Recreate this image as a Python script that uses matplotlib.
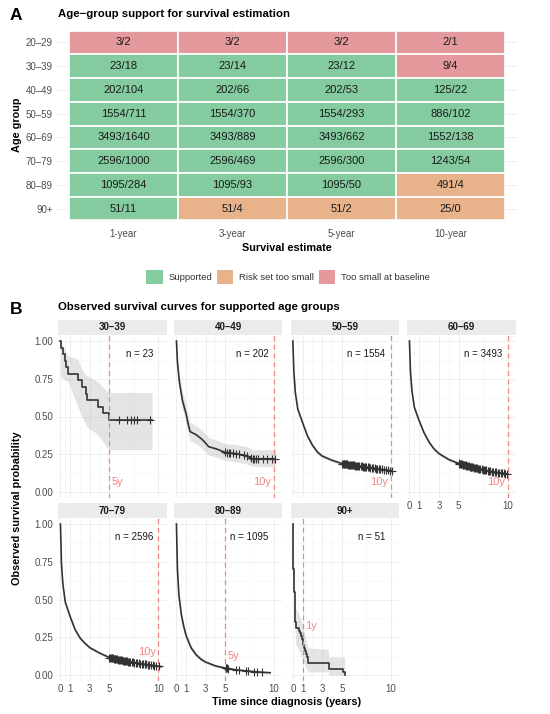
import numpy as np
import matplotlib.pyplot as plt
from matplotlib.patches import Patch, Rectangle

plt.rcParams['font.family'] = ['Liberation Sans', 'DejaVu Sans']

# ---- panel A data ----
age_groups = ['20–29', '30–39', '40–49', '50–59', '60–69', '70–79', '80–89', '90+']
horizons = ['1-year', '3-year', '5-year', '10-year']
n_baseline = [[3, 3, 3, 2],
              [23, 23, 23, 9],
              [202, 202, 202, 125],
              [1554, 1554, 1554, 886],
              [3493, 3493, 3493, 1552],
              [2596, 2596, 2596, 1243],
              [1095, 1095, 1095, 491],
              [51, 51, 51, 25]]
n_at_risk = [[2, 2, 2, 1],
             [18, 14, 12, 4],
             [104, 66, 53, 22],
             [711, 370, 293, 102],
             [1640, 889, 662, 138],
             [1000, 469, 300, 54],
             [284, 93, 50, 4],
             [11, 4, 2, 0]]
status = [['base', 'base', 'base', 'base'],
          ['ok', 'ok', 'ok', 'base'],
          ['ok', 'ok', 'ok', 'ok'],
          ['ok', 'ok', 'ok', 'ok'],
          ['ok', 'ok', 'ok', 'ok'],
          ['ok', 'ok', 'ok', 'ok'],
          ['ok', 'ok', 'ok', 'risk'],
          ['ok', 'risk', 'risk', 'risk']]
status_labels = ['Supported', 'Risk set too small', 'Too small at baseline']
status_keys = ['ok', 'risk', 'base']

# ---- panel B data ----
t_30 = [0, 0.03, 0.25, 0.42, 0.60, 0.78, 1.75, 2.20, 2.60, 2.70, 3.85, 4.35, 4.95, 9.35]
s_30 = [1.0, 0.957, 0.913, 0.870, 0.826, 0.783, 0.739, 0.696, 0.652, 0.609, 0.565, 0.522, 0.478, 0.478]
ci_t_30 = [0, 0.03, 0.78, 1.75, 2.20, 2.70, 3.85, 4.35, 4.95, 9.35]
lo_30 = [1.0, 0.76, 0.73, 0.57, 0.50, 0.43, 0.38, 0.33, 0.28, 0.28]
hi_30 = [1.0, 1.0, 0.90, 0.88, 0.81, 0.77, 0.73, 0.69, 0.66, 0.66]
cens_30 = [5.95, 6.8, 7.2, 7.5, 7.85, 9.1]

t_40 = [0, 0.1, 0.3, 0.6, 1.0, 1.2, 1.4, 2.0, 2.6, 2.9, 3.3, 4.1, 5.0, 6.0, 7.2, 7.8, 10.1]
s_40 = [1.0, 0.86, 0.73, 0.61, 0.515, 0.45, 0.40, 0.38, 0.35, 0.33, 0.30, 0.285, 0.262, 0.255, 0.24, 0.22, 0.22]
lo_40 = [1.0, 0.82, 0.68, 0.55, 0.46, 0.39, 0.34, 0.32, 0.29, 0.27, 0.245, 0.23, 0.21, 0.20, 0.185, 0.17, 0.165]
hi_40 = [1.0, 0.90, 0.78, 0.67, 0.57, 0.51, 0.46, 0.44, 0.41, 0.39, 0.36, 0.345, 0.32, 0.315, 0.30, 0.28, 0.28]
cens_40 = [5.0, 5.2, 5.35, 5.5, 5.8, 6.1, 6.4, 6.9, 7.2, 7.6, 7.8, 8.0, 8.2, 8.4, 8.9, 9.3, 9.8, 10.1]

t_50 = [0, 0.1, 0.25, 0.5, 1.0, 1.5, 2.0, 2.5, 3.0, 4.0, 5.0, 6.0, 7.0, 8.0, 9.0, 10.0, 10.2]
s_50 = [1.0, 0.80, 0.66, 0.55, 0.4575, 0.37, 0.31, 0.265, 0.238, 0.21, 0.1885, 0.178, 0.17, 0.16, 0.15, 0.14, 0.135]
lo_50 = [1.0, 0.78, 0.64, 0.53, 0.44, 0.355, 0.295, 0.25, 0.225, 0.198, 0.176, 0.166, 0.157, 0.147, 0.136, 0.125, 0.118]
hi_50 = [1.0, 0.82, 0.68, 0.57, 0.475, 0.385, 0.325, 0.28, 0.251, 0.222, 0.201, 0.19, 0.183, 0.173, 0.164, 0.155, 0.152]
cens_50 = [5.02, 5.1, 5.18, 5.25, 5.33, 5.4, 5.5, 5.58, 5.66, 5.75, 5.85, 5.93, 6.02, 6.12, 6.2,
           6.3, 6.4, 6.5, 6.6, 6.7, 6.8, 6.92, 7.05, 7.15, 7.28, 7.4, 7.52, 7.65, 7.78, 7.9,
           8.05, 8.2, 8.35, 8.5, 8.65, 8.8, 8.95, 9.1, 9.3, 9.5, 9.7, 9.9, 10.1]

t_60 = [0, 0.1, 0.25, 0.5, 1.0, 1.5, 2.0, 2.5, 3.0, 4.0, 5.0, 6.0, 7.0, 8.0, 9.0, 10.0]
s_60 = [1.0, 0.80, 0.67, 0.56, 0.4695, 0.39, 0.33, 0.285, 0.2545, 0.215, 0.1895, 0.17, 0.155, 0.14, 0.128, 0.12]
lo_60 = [1.0, 0.79, 0.655, 0.545, 0.455, 0.378, 0.318, 0.274, 0.244, 0.205, 0.18, 0.161, 0.146, 0.131, 0.119, 0.11]
hi_60 = [1.0, 0.81, 0.685, 0.575, 0.484, 0.402, 0.342, 0.296, 0.265, 0.225, 0.199, 0.179, 0.164, 0.149, 0.137, 0.13]
cens_60 = [5.0, 5.07, 5.14, 5.2, 5.27, 5.34, 5.42, 5.5, 5.57, 5.65, 5.72, 5.8, 5.88, 5.96, 6.05,
           6.13, 6.22, 6.3, 6.4, 6.5, 6.6, 6.7, 6.8, 6.9, 7.0, 7.1, 7.22, 7.34, 7.46, 7.58,
           7.7, 7.82, 7.95, 8.1, 8.25, 8.4, 8.55, 8.7, 8.85, 9.0, 9.15, 9.3, 9.45, 9.6, 9.75, 9.9]

t_70 = [0, 0.1, 0.25, 0.5, 1.0, 1.5, 2.0, 2.5, 3.0, 4.0, 5.0, 6.0, 7.0, 8.0, 9.0, 10.0, 10.3]
s_70 = [1.0, 0.74, 0.60, 0.48, 0.385, 0.30, 0.245, 0.21, 0.181, 0.145, 0.1156, 0.10, 0.088, 0.077, 0.067, 0.058, 0.055]
lo_70 = [1.0, 0.725, 0.585, 0.465, 0.37, 0.287, 0.233, 0.199, 0.171, 0.136, 0.107, 0.092, 0.08, 0.069, 0.059, 0.05, 0.046]
hi_70 = [1.0, 0.755, 0.615, 0.495, 0.40, 0.313, 0.257, 0.221, 0.191, 0.154, 0.124, 0.108, 0.096, 0.085, 0.075, 0.066, 0.064]
cens_70 = [5.0, 5.08, 5.15, 5.22, 5.3, 5.38, 5.45, 5.53, 5.6, 5.7, 5.78, 5.86, 5.95, 6.05, 6.15,
           6.25, 6.35, 6.45, 6.55, 6.66, 6.78, 6.9, 7.02, 7.15, 7.28, 7.4, 7.55, 7.7, 7.85, 8.0,
           8.15, 8.3, 8.45, 8.6, 8.75, 8.9, 9.05, 9.2, 9.4, 9.6, 9.8, 10.05]

t_80 = [0, 0.1, 0.25, 0.5, 0.75, 1.0, 1.5, 2.0, 2.5, 3.0, 4.0, 5.0, 6.0, 7.0, 8.0, 9.0, 9.6]
s_80 = [1.0, 0.70, 0.53, 0.40, 0.32, 0.259, 0.18, 0.135, 0.105, 0.085, 0.06, 0.0457, 0.035, 0.028, 0.022, 0.017, 0.015]
lo_80 = [1.0, 0.675, 0.505, 0.375, 0.297, 0.238, 0.162, 0.12, 0.092, 0.074, 0.05, 0.036, 0.026, 0.02, 0.014, 0.009, 0.007]
hi_80 = [1.0, 0.725, 0.555, 0.425, 0.343, 0.28, 0.198, 0.15, 0.118, 0.096, 0.07, 0.055, 0.044, 0.036, 0.03, 0.025, 0.023]
cens_80 = [5.05, 5.12, 5.2, 5.3, 6.1, 6.4, 7.1, 7.3, 8.0, 8.3, 8.8]

t_90 = [0, 0.02, 0.04, 0.06, 0.08, 0.12, 0.17, 0.22, 0.27, 0.34, 0.6, 0.7, 0.8, 0.9, 1.0,
        1.05, 1.12, 1.2, 1.3, 1.4, 1.5, 1.55, 3.65, 5.15, 5.3]
s_90 = [1.0, 0.90, 0.80, 0.70, 0.63, 0.55, 0.47, 0.41, 0.35, 0.314, 0.294, 0.275, 0.255, 0.235, 0.216,
        0.196, 0.176, 0.157, 0.137, 0.118, 0.098, 0.078, 0.039, 0.0196, 0.0]
ci_t_90 = [0, 0.15, 0.3, 0.6, 1.0, 1.55, 3.6, 3.7, 5.3]
lo_90 = [1.0, 0.36, 0.20, 0.17, 0.10, 0.02, 0.02, 0.0, 0.0]
hi_90 = [1.0, 0.60, 0.44, 0.41, 0.33, 0.18, 0.17, 0.12, 0.12]
cens_90 = []

panel_titles = ['30–39', '40–49', '50–59', '60–69', '70–79', '80–89', '90+']
panel_n = [23, 202, 1554, 3493, 2596, 1095, 51]
panel_horizon = [5, 10, 10, 10, 10, 5, 1]

STATUS_COLORS = {'ok': '#84CC9F', 'risk': '#E8B38A', 'base': '#E49A9C'}
CURVE = '#333333'
HORIZON_COL = '#F08585'

W, H = 550, 714
fig = plt.figure(figsize=(W / 100, H / 100), dpi=100)


def px_axes(x0, y0, x1, y1):
    """Axes placed by pixel box (top-left origin)."""
    return fig.add_axes([x0 / W, 1 - y1 / H, (x1 - x0) / W, (y1 - y0) / H])


# ================= Panel A =================
ax = px_axes(57, 28, 517, 223)
for i in range(len(age_groups)):
    for j in range(len(horizons)):
        ax.add_patch(Rectangle((j - 0.5, i - 0.5), 1, 1,
                               facecolor=STATUS_COLORS[status[i][j]],
                               edgecolor='white', linewidth=1.2, zorder=2))
        ax.text(j, i, f"{n_baseline[i][j]}/{n_at_risk[i][j]}", ha='center', va='center',
                fontsize=8, color='#1a1a1a', zorder=3)
ax.set_xlim(-0.61, 3.61)
ax.set_ylim(7.61, -0.61)
ax.set_xticks(range(len(horizons)))
ax.set_xticklabels(horizons)
ax.set_yticks(range(len(age_groups)))
ax.set_yticklabels(age_groups)
ax.tick_params(length=0, labelsize=7, labelcolor='#4D4D4D')
ax.tick_params(axis='x', pad=4)
ax.tick_params(axis='y', pad=3)
ax.grid(True, color='#EBEBEB', linewidth=0.6)
ax.set_axisbelow(True)
for sp in ax.spines.values():
    sp.set_visible(False)

fig.text(10 / W, 1 - 15 / H, 'A', fontsize=12.5, fontweight='bold', va='center')
fig.text(58 / W, 1 - 14 / H, 'Age−group support for survival estimation',
         fontsize=8.2, fontweight='bold', va='center')
fig.text(287 / W, 1 - 248 / H, 'Survival estimate', fontsize=7.8, fontweight='bold',
         ha='center', va='center')
fig.text(17 / W, 1 - 125 / H, 'Age group', fontsize=7.8, fontweight='bold',
         ha='center', va='center', rotation=90)

handles = [Patch(facecolor=STATUS_COLORS[k], edgecolor='none') for k in status_keys]
fig.legend(handles, status_labels, loc='center', bbox_to_anchor=(288 / W, 1 - 277 / H),
           ncol=3, frameon=False, fontsize=6.8, handlelength=1.75, handleheight=1.75,
           handletextpad=0.6, columnspacing=0.5, labelcolor='#333333')

# ================= Panel B =================
fig.text(10 / W, 1 - 309 / H, 'B', fontsize=12.5, fontweight='bold', va='center')
fig.text(58 / W, 1 - 307 / H, 'Observed survival curves for supported age groups',
         fontsize=8.2, fontweight='bold', va='center')

col_x = [(58.3, 166.7), (174.3, 282.3), (290.7, 399.0), (407.3, 516.0)]
row_y = [(335, 498), (518, 681)]
strip_h = 15

curves = [(t_30, s_30, ci_t_30, lo_30, hi_30, cens_30, True),
          (t_40, s_40, t_40, lo_40, hi_40, cens_40, False),
          (t_50, s_50, t_50, lo_50, hi_50, cens_50, False),
          (t_60, s_60, t_60, lo_60, hi_60, cens_60, False),
          (t_70, s_70, t_70, lo_70, hi_70, cens_70, False),
          (t_80, s_80, t_80, lo_80, hi_80, cens_80, False),
          (t_90, s_90, ci_t_90, lo_90, hi_90, cens_90, True)]

# horizon label placement: (x, y, ha)
horizon_text = [(5.25, 0.065, 'left'), (9.75, 0.065, 'right'), (9.75, 0.065, 'right'),
                (9.75, 0.065, 'right'), (9.75, 0.155, 'right'), (5.25, 0.125, 'left'),
                (1.25, 0.325, 'left')]

for k, (t, s, ct, lo, hi, cens, is_step) in enumerate(curves):
    r, c = divmod(k, 4)
    x0, x1 = col_x[c]
    y0, y1 = row_y[r]
    ax = px_axes(x0, y0, x1, y1)

    # facet strip
    st = px_axes(x0, y0 - strip_h, x1, y0)
    st.set_facecolor('#EBEBEB')
    st.set_xticks([])
    st.set_yticks([])
    for sp in st.spines.values():
        sp.set_visible(False)
    st.text(0.5, 0.5, panel_titles[k], ha='center', va='center', fontsize=7,
            fontweight='bold', color='#1a1a1a', transform=st.transAxes)

    ax.fill_between(ct, lo, hi, color='#BDBDBD', alpha=0.4, linewidth=0, zorder=2)
    ax.plot(t, s, color=CURVE, linewidth=1.2, zorder=3,
            drawstyle='steps-post' if is_step else 'default')
    if cens:
        if is_step:
            idx = np.searchsorted(t, cens, side='right') - 1
            cy = np.asarray(s)[idx]
        else:
            cy = np.interp(cens, t, s)
        ax.plot(cens, cy, linestyle='none', marker='+', markersize=6, markeredgewidth=0.8,
                color=CURVE, zorder=4)

    hz = panel_horizon[k]
    ax.axvline(hz, color=HORIZON_COL, linestyle=(0, (4, 3)), linewidth=0.9, zorder=3)
    hx, hy, ha = horizon_text[k]
    ax.text(hx, hy, f"{hz}y", ha=ha, va='center', fontsize=8, color=HORIZON_COL, zorder=5)
    ax.text(9.45, 0.915, f"n = {panel_n[k]}", ha='right', va='center', fontsize=7,
            color='#1a1a1a', zorder=5)

    ax.set_xlim(-0.22, 10.85)
    ax.set_ylim(-0.04, 1.04)
    ax.set_xticks([0, 1, 3, 5, 10])
    ax.set_xticks([0.5, 2, 4, 7.5], minor=True)
    ax.set_yticks([0, 0.25, 0.5, 0.75, 1.0])
    ax.set_yticks([0.125, 0.375, 0.625, 0.875], minor=True)
    ax.grid(True, which='major', color='#EBEBEB', linewidth=0.6)
    ax.grid(True, which='minor', color='#F5F5F5', linewidth=0.4)
    ax.set_axisbelow(True)
    ax.tick_params(which='both', length=0, labelsize=7, labelcolor='#4D4D4D')
    ax.tick_params(axis='y', pad=3.5)
    ax.tick_params(axis='x', pad=2)
    for sp in ax.spines.values():
        sp.set_visible(False)

    if c == 0:
        ax.set_yticklabels(['0.00', '0.25', '0.50', '0.75', '1.00'])
    else:
        ax.set_yticklabels([])
    if r == 1 or k == 3:
        ax.set_xticklabels(['0', '1', '3', '5', '10'])
    else:
        ax.set_xticklabels([])

fig.text(287 / W, 1 - 702 / H, 'Time since diagnosis (years)', fontsize=7.8,
         fontweight='bold', ha='center', va='center')
fig.text(17 / W, 1 - 508 / H, 'Observed survival probability', fontsize=7.8,
         fontweight='bold', ha='center', va='center', rotation=90)

fig.savefig('out.png', dpi=100)
